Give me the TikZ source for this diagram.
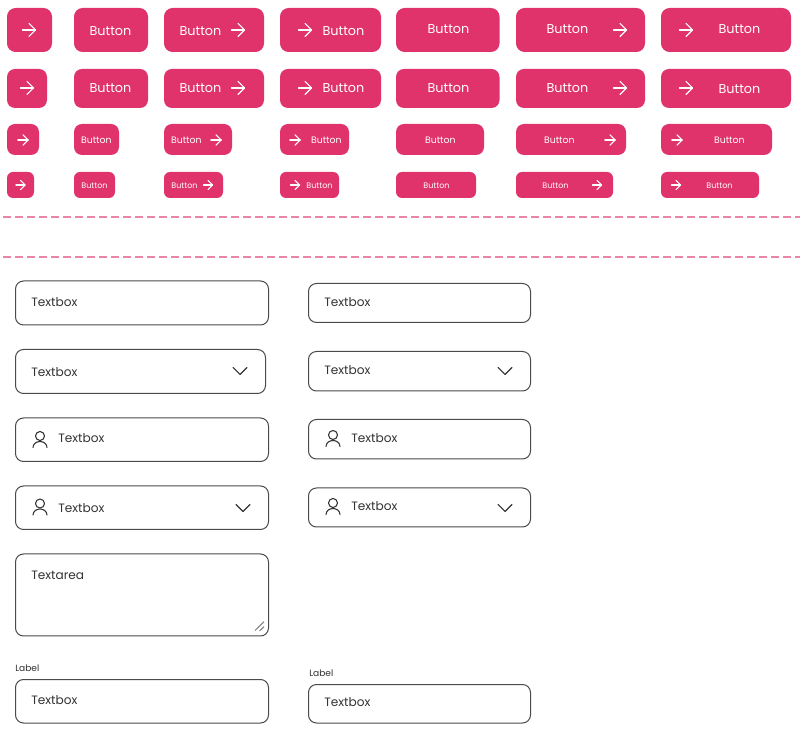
\documentclass[tikz,border=0pt]{standalone}
\usepackage{fontspec}
\usepackage{xcolor}
\newfontfamily\uifont{Poppins}
\definecolor{btnpink}{HTML}{E0336B}
\definecolor{dashpink}{HTML}{E985A8}
\definecolor{boxgray}{HTML}{4A4A4A}
\definecolor{inktext}{HTML}{333333}
\begin{document}
\begin{tikzpicture}[
    x=0.75pt, y=-0.75pt,
    btntext/.style={text=white, inner sep=0pt, font=\uifont\fontsize{#1}{#1}\selectfont},
    boxtext/.style={text=inktext, inner sep=0pt, anchor=west, font=\uifont\fontsize{9.1}{10}\selectfont},
    arrowline/.style={draw=white, line width=0.8pt, line cap=round, line join=round},
    inkline/.style={draw=inktext, line width=0.8pt, line cap=round, line join=round},
    fieldbox/.style={draw=boxgray, line width=0.75pt, rounded corners=6pt},
    sepline/.style={draw=dashpink, line width=0.8pt, dash pattern=on 6.2pt off 2.8pt},
  ]
  \useasboundingbox (0,0) rectangle (800,730);
  \fill[white] (0,0) rectangle (800,730);

  % --- Buttons ---
  % row 1
  \foreach \xa/\xb in {7/52, 74/148, 164/264, 280/381, 396/499.5, 516/645, 661/791} {
    \fill[btnpink, rounded corners=6.5pt] (\xa,8) rectangle (\xb,52);
  }
  % row 2
  \foreach \xa/\xb in {7/47, 74/148, 164/264, 280/381, 396/499.5, 516/645, 661/791} {
    \fill[btnpink, rounded corners=6pt] (\xa,69) rectangle (\xb,108);
  }
  % row 3
  \foreach \xa/\xb in {7/39, 74/119, 164/232, 280/349, 396/484, 516/626, 661/772} {
    \fill[btnpink, rounded corners=6pt] (\xa,124) rectangle (\xb,155);
  }
  % row 4
  \foreach \xa/\xb in {7/34, 74/115, 164/223, 280/339, 396/476, 516/613, 661/759} {
    \fill[btnpink, rounded corners=4.5pt] (\xa,172) rectangle (\xb,198);
  }

  % Button labels
  \foreach \tx/\ty in {110/31, 200/31, 343/31, 448/29, 567/29, 739/29, 110/88, 200/88, 343/88, 448/88, 567/88, 739/89} {
    \node[btntext=9.6] (lab\tx-\ty) at (\tx+0.5,\ty+0.5) {Button};
  }
  \foreach \tx/\ty in {96/140, 186/140, 326/140, 440/140, 559/140, 729/140} {
    \node[btntext=7.0] (lab\tx-\ty) at (\tx+0.3,\ty+0.5) {Button};
  }
  \foreach \tx/\ty in {94/185, 184/185, 319/185, 436/185, 555/185, 719/185} {
    \node[btntext=6.0] (lab\tx-\ty) at (\tx+0.5,\ty+0.5) {Button};
  }

  % Arrows: x, y, half width
  \foreach \ax/\ay/\ah in {29/30/6.5, 238/30/6.5, 305/30/6.5, 620/30/6.5, 686/30/6.5,
      27/88/6.5, 238/88/6.5, 305/88/6.5, 620/88/6.5, 686/88/6.5,
      23/140/5.2, 216/140/5.2, 295/140/5.2, 610/140/5.2, 677/140/5.2,
      20.5/185/4.6, 208/185/4.6, 295/185/4.6, 597/185/4.6, 676/185/4.6} {
    \draw[arrowline] (\ax-\ah,\ay) -- (\ax+\ah,\ay);
    \draw[arrowline] (\ax,\ay-\ah) -- (\ax+\ah,\ay) -- (\ax,\ay+\ah);
  }

  % Separators
  \draw[sepline] (3,217) -- (800,217);
  \draw[sepline] (3,257) -- (800,257);

  % --- Text fields ---
  \foreach \xa/\ya/\xb/\yb in {15.5/281/268.5/325, 15.5/349.5/265.5/393.5, 15.5/418/268.5/461.5,
      15.5/486/268.5/529.5, 15.5/554/268.5/636, 15.5/679.5/268.5/723,
      308.5/283.5/530.5/322.5, 308.5/351.5/530.5/391, 308.5/419.5/530.5/459,
      308.5/488/530.5/527, 308.5/684.5/530.5/723} {
    \draw[fieldbox] (\xa,\ya) rectangle (\xb,\yb);
  }
  \foreach \tx/\ty in {31/302, 31/372, 58/438, 58/508, 31/700, 324/302, 324/370, 351/438, 351/506, 324/702} {
    \node[boxtext] (field\tx-\ty) at (\tx,\ty+0.5) {Textbox};
  }
  \node[boxtext] (areatext) at (31,575.5) {Textarea};
  \node[boxtext, font=\uifont\fontsize{6.8}{7}\selectfont] (labelleft) at (15,668) {Label};
  \node[boxtext, font=\uifont\fontsize{6.8}{7}\selectfont] (labelright) at (309,673) {Label};

  % Chevrons
  \foreach \cx/\cy in {240/371, 243/508, 505/371, 505/508} {
    \draw[inkline] (\cx-7,\cy-3.5) -- (\cx,\cy+3.5) -- (\cx+7,\cy-3.5);
  }
  % User icons
  \foreach \ux/\uy in {40/440, 40/507.5, 333/439, 333/507} {
    \draw[inkline] (\ux,\uy-4) circle[radius=4.5];
    \draw[inkline] (\ux-7,\uy+7.5) .. controls (\ux-7,\uy+3.5) and (\ux-3,\uy+1.5) .. (\ux,\uy+1.5)
      .. controls (\ux+3,\uy+1.5) and (\ux+7,\uy+3.5) .. (\ux+7,\uy+7.5);
  }
  % Resize grip
  \draw[draw=gray, line width=0.75pt] (255,630.5) -- (264,621.7);
  \draw[draw=gray, line width=0.75pt] (259.5,631) -- (264,626.7);
\end{tikzpicture}
\end{document}
